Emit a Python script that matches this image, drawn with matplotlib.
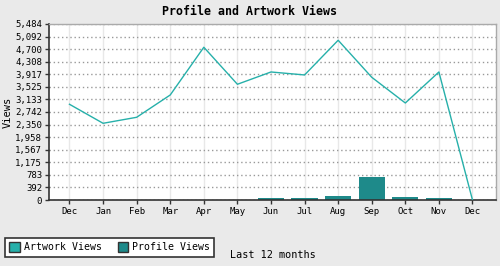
import matplotlib
matplotlib.use('Agg')
import matplotlib.pyplot as plt
from matplotlib.patches import Patch

months = ['Dec', 'Jan', 'Feb', 'Mar', 'Apr', 'May', 'Jun', 'Jul', 'Aug', 'Sep', 'Oct', 'Nov', 'Dec']
artwork_views = [2982, 2390, 2577, 3272, 4758, 3605, 3988, 3895, 4976, 3823, 3022, 3988, 0]
profile_views = [0, 0, 0, 0, 0, 0, 60, 60, 110, 726, 85, 60, 0]
y_ticks = [0, 392, 783, 1175, 1567, 1958, 2350, 2742, 3133, 3525, 3917, 4308, 4700, 5092, 5484]

line_color = '#26b0aa'
bar_color = '#1e8a8a'
font = ['DejaVu Sans Mono']

fig = plt.figure(figsize=(5, 2.66), dpi=100, facecolor='#eaeaea')
ax = fig.add_axes([0.098, 0.248, 0.894, 0.662])
ax.set_facecolor('white')

x = list(range(len(months)))
ax.bar(x, profile_views, width=0.78, color=bar_color, edgecolor='none', zorder=2)
ax.plot(x, artwork_views, color=line_color, linewidth=1, zorder=3)

ax.set_xlim(-0.61, 12.7)
ax.set_ylim(0, 5484)
ax.set_xticks(x)
ax.set_xticklabels(months, family=font, fontsize=6.5)
ax.set_yticks(y_ticks)
ax.set_yticklabels([f'{v:,}' for v in y_ticks], family=font, fontsize=6.5)
ax.tick_params(length=3, width=1, color='#333333', pad=2)

ax.grid(axis='y', linestyle=(0, (1, 2)), color='#999999', linewidth=1, zorder=0)
ax.grid(axis='x', linestyle='-', color='#e8e8e8', linewidth=1, zorder=0)
ax.set_axisbelow(True)

for s in ['left', 'bottom']:
    ax.spines[s].set_color('#333333')
    ax.spines[s].set_linewidth(1.2)
for s in ['top', 'right']:
    ax.spines[s].set_color('#aaaaaa')
    ax.spines[s].set_linewidth(1)

ax.set_ylabel('Views', family=font, fontsize=7.5)
ax.yaxis.set_label_coords(-0.082, 0.5)
fig.text(0.5, 0.955, 'Profile and Artwork Views', ha='center', va='center',
         family=font, fontsize=8.4, fontweight='bold')
fig.text(0.46, 0.04, 'Last 12 months', ha='left', va='center', family=font, fontsize=7.3)

handles = [Patch(facecolor=line_color, edgecolor='#333333', label='Artwork Views'),
           Patch(facecolor=bar_color, edgecolor='#333333', label='Profile Views')]
leg = fig.legend(handles=handles, loc='lower left', bbox_to_anchor=(0.01, 0.035), ncol=2,
                 prop={'family': font, 'size': 7.1}, fancybox=False, framealpha=1,
                 edgecolor='#333333', handlelength=1.1, handleheight=1.1, handletextpad=0.35,
                 columnspacing=1.6, borderpad=0.45, borderaxespad=0)
leg.get_frame().set_linewidth(1.2)

fig.savefig('out.png', dpi=100, facecolor=fig.get_facecolor())
